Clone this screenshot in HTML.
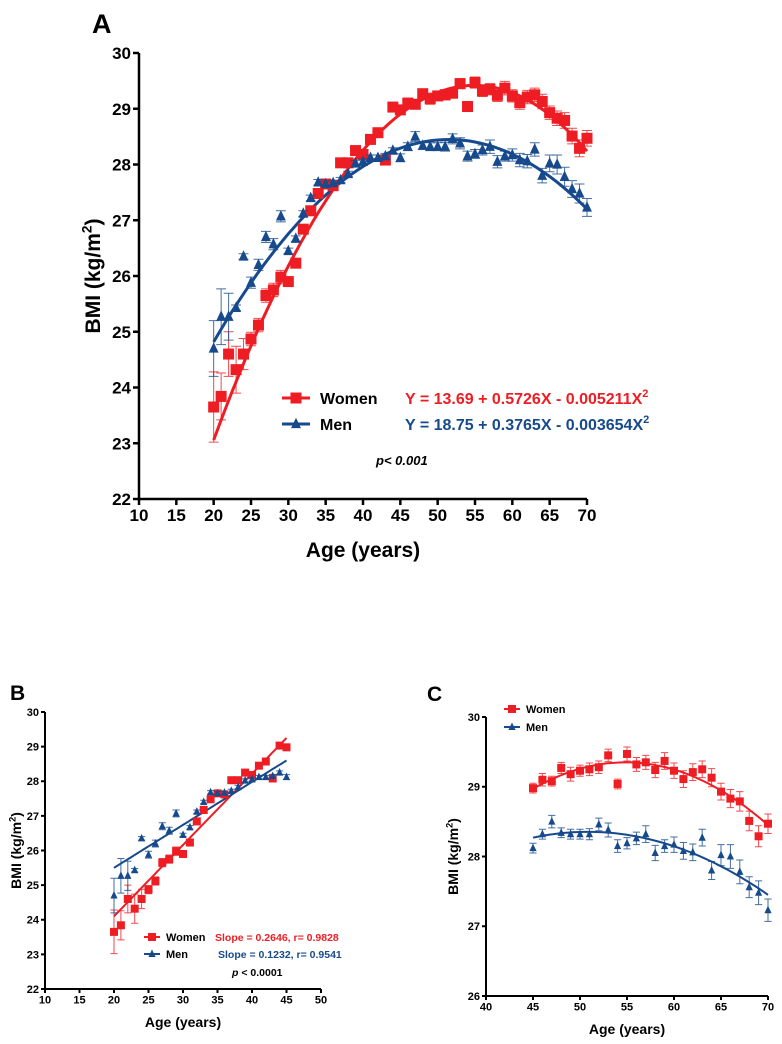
<!DOCTYPE html>
<html><head><meta charset="utf-8"><style>
html,body{margin:0;padding:0;background:#fff;overflow:hidden;}
svg{display:block;font-family:"Liberation Sans",Arial,sans-serif;}
</style></head><body>
<svg id="chart" width="782" height="1044" viewBox="0 0 782 1044" xmlns="http://www.w3.org/2000/svg"></svg>
<script>
const ages=[20,21,22,23,24,25,26,27,28,29,30,31,32,33,34,35,36,37,38,39,40,41,42,43,44,45,46,47,48,49,50,51,52,53,54,55,56,57,58,59,60,61,62,63,64,65,66,67,68,69,70];
const womenBMI=[23.65,23.84,24.6,24.32,24.6,24.87,25.12,25.65,25.75,25.98,25.9,26.23,26.84,27.17,27.48,27.65,27.62,28.03,28.03,28.25,28.18,28.45,28.57,28.08,29.03,28.98,29.1,29.08,29.27,29.18,29.23,29.25,29.28,29.45,29.04,29.47,29.32,29.35,29.24,29.37,29.23,29.11,29.21,29.25,29.13,28.93,28.83,28.79,28.51,28.29,28.47];
const menBMI=[24.7,25.27,25.27,25.43,26.35,25.88,26.2,26.7,26.57,27.07,26.45,26.67,27.12,27.4,27.68,27.65,27.67,27.72,27.83,28.02,28.05,28.12,28.12,28.15,28.25,28.12,28.32,28.5,28.34,28.32,28.32,28.32,28.46,28.38,28.15,28.19,28.26,28.32,28.05,28.15,28.17,28.08,28.06,28.27,27.8,28.02,28.0,27.78,27.56,27.48,27.23];
const womenErr=[0.63,0.42,0.4,0.42,0.28,0.12,0.12,0.12,0.12,0.12,0.08,0.08,0.08,0.08,0.08,0.07,0.07,0.07,0.07,0.07,0.07,0.07,0.07,0.07,0.08,0.07,0.09,0.07,0.08,0.1,0.08,0.09,0.09,0.09,0.07,0.1,0.1,0.1,0.11,0.12,0.11,0.12,0.12,0.12,0.13,0.12,0.13,0.14,0.14,0.15,0.14];
const menErr=[0.5,0.5,0.42,0.05,0.05,0.1,0.1,0.1,0.1,0.1,0.05,0.05,0.05,0.05,0.05,0.05,0.05,0.05,0.05,0.05,0.05,0.05,0.05,0.05,0.05,0.07,0.07,0.09,0.07,0.07,0.07,0.08,0.09,0.1,0.09,0.08,0.09,0.12,0.11,0.09,0.11,0.12,0.12,0.12,0.13,0.15,0.17,0.17,0.15,0.17,0.16];
// fit coefficients: [c0, c1, c2] evaluated at t = x - center
const fitA_women=[13.69,0.5726,-0.005211];
const fitA_men=[18.75,0.3765,-0.003654];
const fitB_women=[19.98,0.206];
const fitB_men=[23.02,0.124];
const fitC_women=[29.35,-0.0012,-0.00392];
const fitC_men=[28.35,-0.00577,-0.002457];
const xTicksA=[10,15,20,25,30,35,40,45,50,55,60,65,70];
const yTicksA=[22,23,24,25,26,27,28,29,30];
const xTicksB=[10,15,20,25,30,35,40,45,50];
const xTicksC=[40,45,50,55,60,65,70];
const yTicksC=[26,27,28,29,30];

const RED='#ee1d23', BLUE='#164a8c';
const NS='http://www.w3.org/2000/svg';
const svg=document.getElementById('chart');
function mk(tag,attrs,parent){const e=document.createElementNS(NS,tag);for(const k in attrs)e.setAttribute(k,attrs[k]);(parent||svg).appendChild(e);return e;}
function txt(s,attrs,parent){const e=mk('text',attrs,parent);e.textContent=s;return e;}

function panel(cfg){
  const g=mk('g',{});
  
  
  const sx=v=>cfg.x0+(v-cfg.xmin)/(cfg.xmax-cfg.xmin)*(cfg.x1-cfg.x0);
  const sy=v=>cfg.y0-(v-cfg.ymin)/(cfg.ymax-cfg.ymin)*(cfg.y0-cfg.y1);
  const ax=mk('path',{d:`M${cfg.x0},${cfg.y1}V${cfg.y0}H${cfg.x1}`,fill:'none',stroke:'#000','stroke-width':cfg.aw},g);
  
  cfg.yt.forEach(v=>{mk('line',{x1:cfg.x0-cfg.tl,x2:cfg.x0,y1:sy(v),y2:sy(v),stroke:'#000','stroke-width':cfg.aw},g);
    const t=txt(String(v),{x:cfg.x0-cfg.tl-2,y:sy(v)+cfg.fs*0.36,'text-anchor':'end','font-size':cfg.fs,'font-weight':'bold'},g);
    });
  cfg.xt.forEach(v=>{mk('line',{x1:sx(v),x2:sx(v),y1:cfg.y0,y2:cfg.y0+cfg.tl,stroke:'#000','stroke-width':cfg.aw},g);
    const t=txt(String(v),{x:sx(v),y:cfg.y0+cfg.tl+cfg.fs*0.95,'text-anchor':'middle','font-size':cfg.fs,'font-weight':'bold'},g);
    });
  const xt=txt('Age (years)',{x:(cfg.x0+cfg.x1)/2,y:cfg.xty,'text-anchor':'middle','font-size':cfg.tfs,'font-weight':'bold'},g);
  
  const yt=mk('text',{transform:`translate(${cfg.ytx},${(cfg.y0+cfg.y1)/2}) rotate(-90)`,'text-anchor':'middle','font-size':cfg.tfs,'font-weight':'bold'},g);
  yt.innerHTML='BMI (kg/m<tspan dy="-'+cfg.tfs*0.4+'" font-size="'+cfg.tfs*0.65+'">2</tspan><tspan dy="'+cfg.tfs*0.4+'">)</tspan>';
  
  const pl=txt(cfg.letter,{x:cfg.lx,y:cfg.ly,'font-size':cfg.lfs,'font-weight':'bold'},g);
  
  [[cfg.fw,cfg.fcw||0,RED,'women-fit-line'],[cfg.fm,cfg.fcm||0,BLUE,'men-fit-line']].forEach(([c,ctr,col,nm])=>{
    let d='';const n=60;
    for(let i=0;i<=n;i++){const x=cfg.fx0+(cfg.fx1-cfg.fx0)*i/n;const t=x-ctr;
      const y=c[0]+c[1]*t+(c.length>2?c[2]*t*t:0);d+=(i?'L':'M')+sx(x).toFixed(1)+','+sy(y).toFixed(1);}
    const p=mk('path',{d,fill:'none',stroke:col,'stroke-width':cfg.lw},g);
    
  });
  const ms=cfg.ms;
  function sq(x,y,col,par){return mk('rect',{x:x-ms/2,y:y-ms/2,width:ms,height:ms,fill:col},par);}
  function tri(x,y,col,par){const h=ms*0.95,w=ms*0.9;return mk('path',{d:`M${x},${y-h*0.6}L${x+w/2},${y+h*0.4}L${x-w/2},${y+h*0.4}Z`,fill:col},par);}
  const shapes={sq,tri};
  [[womenBMI,womenErr,RED,sq,'women-point'],[menBMI,menErr,BLUE,tri,'men-point']].forEach(([vals,errs,col,shape,nm])=>{
    ages.forEach((a,i)=>{
      if(a<cfg.dx0||a>cfg.dx1)return;
      const x=sx(a),y=sy(vals[i]),yt=sy(vals[i]+errs[i]),yb=sy(vals[i]-errs[i]),cw=ms*0.45;
      const eb=mk('path',{d:`M${x},${yt}V${yb}M${x-cw},${yt}H${x+cw}M${x-cw},${yb}H${x+cw}`,stroke:col,'stroke-width':1,fill:'none','stroke-opacity':0.8},g);
      
      const m=shape(x,y,col,g);
      
    });
  });
  cfg.leg.forEach(([lbl,col,shp,lx,ly])=>{
    const lg=mk('g',{},g);
    
    mk('line',{x1:lx-cfg.ll,x2:lx+cfg.ll,y1:ly,y2:ly,stroke:col,'stroke-width':cfg.lw},lg);
    shapes[shp](lx,ly,col,lg);
    txt(lbl,{x:lx+cfg.ll+cfg.lgap,y:ly+cfg.lgfs*0.36,'font-size':cfg.lgfs,'font-weight':'bold'},lg);
  });
  (cfg.notes||[]).forEach(([html,x,y,fs,col,nm])=>{
    const t=mk('text',{x,y,'font-size':fs,'font-weight':'bold',fill:col},g);
    t.innerHTML=html;
    
  });
  return {g,sx,sy};
}

panel({name:'panel-a',x0:139,x1:587,y0:499,y1:53,xmin:10,xmax:70,ymin:22,ymax:30,xt:xTicksA,yt:yTicksA,
  aw:2.5,tl:6,fs:17,tfs:21,xty:557,ytx:100,letter:'A',lx:92,ly:33,lfs:27,
  fw:fitA_women,fm:fitA_men,fx0:20,fx1:70,dx0:20,dx1:70,lw:3,ms:11,
  leg:[['Women',RED,'sq',296,398],['Men',BLUE,'tri',296,424]],ll:14,lgap:10,lgfs:16,
  notes:[['Y = 13.69 + 0.5726X - 0.005211X<tspan dy="-7" font-size="11">2</tspan>',405,404,16,RED,'women-equation'],
         ['Y = 18.75 + 0.3765X - 0.003654X<tspan dy="-7" font-size="11">2</tspan>',405,430,16,BLUE,'men-equation'],
         ['<tspan font-style="italic">p&lt; 0.001</tspan>',376,465,13,'#000','p-value']]});
panel({name:'panel-b',x0:45,x1:321,y0:989,y1:712,xmin:10,xmax:50,ymin:22,ymax:30,xt:xTicksB,yt:[22,23,24,25,26,27,28,29,30],
  aw:2,tl:4,fs:11,tfs:14,xty:1027,ytx:21,letter:'B',lx:10,ly:700,lfs:21,
  fw:fitB_women,fm:fitB_men,fx0:20,fx1:45,dx0:20,dx1:45,lw:2,ms:8,
  leg:[['Women',RED,'sq',152,937],['Men',BLUE,'tri',152,954]],ll:8,lgap:6,lgfs:11,
  notes:[['Slope = 0.2646,  r= 0.9828',215,941,10.5,RED,'women-slope'],
         ['Slope = 0.1232, r= 0.9541',218,958,10.5,BLUE,'men-slope'],
         ['<tspan font-style="italic">p</tspan> &lt; 0.0001',232,976,10.5,'#000','p-value']]});
panel({name:'panel-c',x0:486,x1:768,y0:996,y1:717,xmin:40,xmax:70,ymin:26,ymax:30,xt:xTicksC,yt:yTicksC,
  aw:2,tl:4,fs:11,tfs:14,xty:1034,ytx:458,letter:'C',lx:427,ly:701,lfs:21,
  fw:fitC_women,fm:fitC_men,fcw:55,fcm:52,fx0:45,fx1:70,dx0:45,dx1:70,lw:2,ms:8,
  leg:[['Women',RED,'sq',512,709],['Men',BLUE,'tri',512,727]],ll:8,lgap:6,lgfs:11});
</script>
</body></html>
